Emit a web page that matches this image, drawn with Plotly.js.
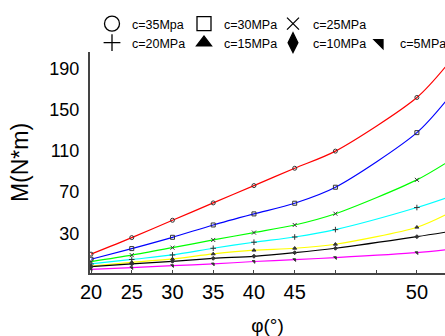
<!DOCTYPE html>
<html>
<head>
<meta charset="utf-8">
<script src="https://cdn.plot.ly/plotly-3.0.1.min.js"></script>
<style>
html,body{margin:0;padding:0;background:#fff;}
#chart{width:445px;height:336px;}
</style>
</head>
<body>
<div id="chart"></div>
<script>
// x positions (equally spaced steps) and their labels
const phiTickPos = [0, 1, 2, 3, 4, 5, 6, 7, 8];
const phiTickText = ["20", "25", "30", "35", "40", "45", "", "", "50"];
const markerPos = [0, 1, 2, 3, 4, 5, 6, 8];
const linePos = [0, 1, 2, 3, 4, 5, 6, 8, 8.75];

const seriesNames = ["c=35Mpa", "c=30MPa", "c=25MPa", "c=20MPa", "c=15MPa", "c=10MPa", "c=5MPa"];
const m35 = [9.6, 25.7, 42.6, 59.5, 76.4, 93.3, 110.0, 162.3, 194.5];
const m30 = [4.6, 15.0, 26.0, 38.0, 48.8, 59.2, 74.8, 128.0, 160.6];
const m25 = [2.3, 8.6, 15.9, 23.4, 30.6, 38.0, 49.0, 82.0, 99.3];
const m20 = [0.0, 4.4, 8.8, 15.3, 21.2, 26.3, 33.5, 55.0, 64.8];
const m15 = [-2.0, 1.6, 4.9, 9.8, 13.4, 15.3, 19.2, 35.8, 48.8];
const m10 = [-2.6, 0.0, 2.6, 5.5, 7.5, 11.0, 15.3, 26.6, 31.3];
const m5 = [-5.2, -3.6, -1.6, 0.0, 2.4, 4.2, 6.2, 11.0, 13.9];

const allSeries = [m35, m30, m25, m20, m15, m10, m5];
const lineColors = ["#ff0000", "#0000ff", "#00ff00", "#00ffff", "#ffff00", "#000000", "#ff00ff"];
const symbols = ["circle-open", "square-open", "x-thin-open", "cross-thin-open", "triangle-up", "diamond", "triangle-ne"];
const markerSizes = [4, 4, 4, 4, 3.5, 3, 3];
const legendSymbols = ["circle-open", "square-open", "x-thin-open", "cross-thin-open", "triangle-up", "diamond-tall", "triangle-ne"];
const legendSizes = [15, 14, 12, 12, 13, 14, 10];
// legend entry layout (pixels): text start x, row center y
const legendTextX = [130, 222, 311, 130, 222, 311, 398];
const legendRowY = [24, 24, 24, 43, 43, 43, 43];

const traces = [];
allSeries.forEach((vals, i) => {
  traces.push({
    x: linePos, y: vals, type: "scatter", mode: "lines",
    line: {color: lineColors[i], width: 1.2, shape: "spline", smoothing: 0.8},
    showlegend: false, hoverinfo: "skip"
  });
  traces.push({
    x: markerPos, y: vals.slice(0, markerPos.length), type: "scatter", mode: "markers",
    marker: {symbol: symbols[i], size: markerSizes[i], color: "#333",
             line: {color: "#333", width: 1}},
    showlegend: false, cliponaxis: false
  });
});
const legendKey = i => (i === 0 ? "legend" : "legend" + (i + 1));
// legend entries, one legend box each
allSeries.forEach((vals, i) => {
  traces.push({
    x: [null], y: [null], type: "scatter", mode: "markers", name: seriesNames[i],
    marker: {symbol: legendSymbols[i], size: legendSizes[i], color: "#000",
             line: {color: "#000", width: 1.3}},
    legend: legendKey(i)
  });
});

const layout = {
  width: 445, height: 336,
  margin: {l: 90, r: 0, t: 52, b: 63, autoexpand: false},
  paper_bgcolor: "#fff", plot_bgcolor: "#fff",
  font: {family: "Liberation Sans, Arial, sans-serif", color: "#000"},
  xaxis: {
    range: [-0.025, 8.69], tickmode: "array", tickvals: phiTickPos, ticktext: phiTickText,
    showgrid: false, zeroline: false, showline: true, linecolor: "#444", linewidth: 2,
    ticks: "inside", ticklen: 3, tickcolor: "#444", tickwidth: 1,
    tickfont: {size: 20, color: "#000"}, ticklabelstandoff: 0,
    title: {text: "φ(°)", font: {size: 19, color: "#000"}, standoff: 18}
  },
  yaxis: {
    range: [-8.8, 206.6], tickmode: "array", tickvals: [30, 70, 110, 150, 190],
    showgrid: false, zeroline: false, showline: true, linecolor: "#444", linewidth: 2,
    ticks: "", tickfont: {size: 18, color: "#000"}, ticklabelstandoff: 5,
    title: {text: "M(N*m)", font: {size: 23, color: "#000"}, standoff: 14}
  },
  showlegend: true
};
allSeries.forEach((vals, i) => {
  layout[legendKey(i)] = {
    orientation: "h", xanchor: "left", yanchor: "middle",
    font: {family: "Liberation Sans, Arial, sans-serif", size: 12.5, color: "#000"},
    bgcolor: "rgba(0,0,0,0)", borderwidth: 0, itemwidth: 30,
    xref: "container", yref: "container", itemclick: false,
    x: (legendTextX[i] - 38) / 445, y: 1 - legendRowY[i] / 336
  };
});

Plotly.newPlot("chart", traces, layout, {displayModeBar: false, staticPlot: true});
</script>
</body>
</html>
